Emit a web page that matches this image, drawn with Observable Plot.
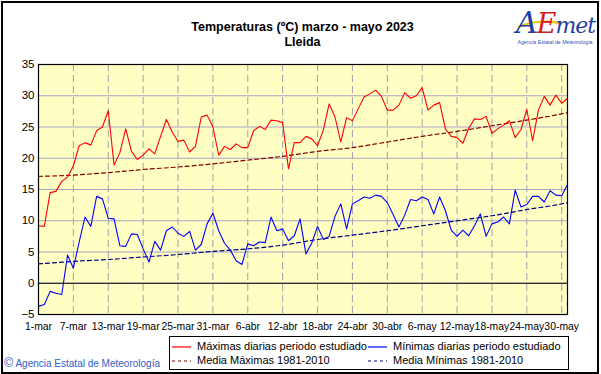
<!DOCTYPE html>
<html>
<head>
<meta charset="utf-8">
<script src="https://cdn.jsdelivr.net/npm/d3@7"></script>
<script src="https://cdn.jsdelivr.net/npm/@observablehq/plot@0.6"></script>
<style>
  html, body { margin: 0; padding: 0; background: #fff; }
  #wrap { position: relative; width: 601px; height: 374px; background: #fff; font-family: "Liberation Sans", Arial, sans-serif; overflow: hidden; }
  #frame { position: absolute; left: 1px; top: 1px; width: 594px; height: 369px; border: 2px solid #000; }
  #title { position: absolute; left: 0; width: 605px; top: 20px; text-align: center; font-weight: bold; font-size: 12.5px; line-height: 15px; color: #000; }
  #chart { position: absolute; left: 0; top: 0; }
  #legend { position: absolute; left: 169px; top: 336px; width: 398px; height: 32px; border: 1px solid #000; font-size: 11px; color: #000; }
  .item { position: absolute; white-space: nowrap; line-height: 12px; }
  .item svg { vertical-align: middle; margin-right: 5px; }
  #copy { position: absolute; left: 4px; top: 356px; font-size: 10px; color: #3060c8; white-space: nowrap; }
  #copy .c { font-size: 12.5px; }
  #logo { position: absolute; left: 512px; top: 3px; }
</style>
</head>
<body>
<div id="wrap">
  <div id="title">Temperaturas (ºC) marzo - mayo 2023<br>Lleida</div>
  <svg id="logo" width="86" height="44" viewBox="0 0 86 44">
    <path d="M6 24 C 20 18, 38 17, 50 21" fill="none" stroke="#f2c200" stroke-width="2.2"/>
    <text x="4" y="30" font-family="DejaVu Serif, serif" font-style="italic" fill="#1f3fa8" letter-spacing="-1"><tspan font-size="30">A</tspan><tspan font-size="27" fill="#d42020">E</tspan><tspan font-size="22">met</tspan></text>
    <text x="43" y="41" text-anchor="middle" font-family="Liberation Sans, Arial" font-size="5.2" fill="#2f55b8">Agencia Estatal de Meteorología</text>
  </svg>
  <div id="chart"></div>
  <div id="legend">
    <div class="item" style="left:2px; top:3px;"><svg width="20" height="6"><line x1="0" y1="3" x2="19" y2="3" stroke="#ff0000" stroke-width="1.2"/></svg>Máximas diarias periodo estudiado</div>
    <div class="item" style="left:198px; top:3px;"><svg width="20" height="6"><line x1="0" y1="3" x2="19" y2="3" stroke="#0000ff" stroke-width="1.2"/></svg>Mínimas diarias periodo estudiado</div>
    <div class="item" style="left:2px; top:17px;"><svg width="20" height="6"><line x1="0" y1="3" x2="19" y2="3" stroke="#800000" stroke-width="1.2" stroke-dasharray="3,3"/></svg>Media Máximas 1981-2010</div>
    <div class="item" style="left:198px; top:17px;"><svg width="20" height="6"><line x1="0" y1="3" x2="19" y2="3" stroke="#000080" stroke-width="1.2" stroke-dasharray="3,3"/></svg>Media Mínimas 1981-2010</div>
  </div>
  <div id="copy"><span class="c">©</span> Agencia Estatal de Meteorología</div>
  <div id="frame"></div>
</div>
<script>
// ---- Data ----
const startDate = "2023-03-01";

const tmax = [
  9.2, 9.1, 14.5, 14.7, 16.3, 17.0, 18.8, 22.0, 22.5, 22.1,
  24.4, 25.0, 27.6, 18.9, 20.9, 24.7, 21.1, 19.8, 20.5, 21.5,
  20.7, 23.5, 26.2, 24.2, 22.7, 22.9, 21.0, 21.9, 26.6, 26.9,
  25.0, 20.5, 21.9, 21.4, 22.3, 21.7, 21.7, 24.4, 25.1, 24.6,
  26.1, 26.0, 25.7, 18.3, 22.5, 22.5, 23.5, 23.1, 22.0, 24.5,
  28.7, 26.6, 22.6, 26.5, 26.0, 27.9, 29.8, 30.3, 30.9, 29.9,
  27.7, 27.7, 28.5, 30.5, 29.6, 30.0, 31.3, 27.7, 28.5, 28.9,
  24.7, 23.5, 23.3, 22.4, 24.8, 26.3, 26.2, 26.7, 24.0, 24.7,
  25.3, 26.0, 23.3, 24.6, 27.8, 22.8, 27.7, 29.9, 28.5, 30.1,
  28.8, 29.6
];

const tmin = [
  -3.7, -3.4, -1.3, -1.6, -1.8, 4.5, 2.4, 6.6, 10.6, 9.1,
  13.9, 13.5, 10.4, 10.3, 6.0, 5.9, 7.9, 7.8, 5.5, 3.4,
  6.7, 5.3, 8.4, 9.0, 8.0, 7.5, 8.3, 5.3, 6.2, 9.5,
  11.2, 8.4, 6.4, 5.3, 3.6, 3.0, 6.3, 6.0, 6.6, 6.5,
  10.6, 8.4, 8.7, 6.8, 7.6, 10.3, 4.7, 6.4, 9.1, 7.0,
  7.5, 10.7, 12.7, 8.7, 12.7, 13.2, 13.8, 13.6, 14.1, 13.9,
  12.9, 11.0, 9.0, 10.9, 13.4, 13.2, 13.8, 13.4, 11.1, 13.8,
  11.6, 8.5, 7.5, 8.5, 7.6, 9.2, 11.1, 7.5, 9.5, 9.8,
  10.6, 9.5, 14.9, 12.2, 12.6, 13.9, 13.9, 13.0, 14.8, 14.1,
  14.0, 15.8
];

// Normals 1981-2010 read at day offsets from startDate
const normDays = [0, 6, 12, 18, 24, 30, 36, 42, 48, 54, 60, 66, 72, 78, 84, 90, 91];
const normMax = [17.1, 17.3, 17.7, 18.2, 18.6, 19.1, 19.7, 20.3, 21.1, 21.7, 22.6, 23.5, 24.3, 25.2, 26.1, 27.1, 27.3];
const normMin = [3.1, 3.5, 3.8, 4.2, 4.6, 5.1, 5.5, 6.1, 7.0, 7.7, 8.4, 9.2, 10.0, 10.8, 11.8, 12.7, 12.9];

const tickLabels = ["1-mar", "7-mar", "13-mar", "19-mar", "25-mar", "31-mar", "6-abr", "12-abr",
  "18-abr", "24-abr", "30-abr", "6-may", "12-may", "18-may", "24-may", "30-may"];
const tickStep = 6;
const yTicks = [-5, 0, 5, 10, 15, 20, 25, 30, 35];

// ---- Build tables ----
const start = new Date(startDate + "T00:00:00Z");
const day = (i) => d3.utcDay.offset(start, i);
const daily = tmax.map((v, i) => ({date: day(i), tmax: v, tmin: tmin[i]}));
const normals = normDays.map((d, i) => ({date: day(d), nmax: normMax[i], nmin: normMin[i]}));
const tickDates = tickLabels.map((_, i) => day(i * tickStep));

const chart = Plot.plot({
  width: 601,
  height: 374,
  marginLeft: 38,
  marginRight: 34,
  marginTop: 64,
  marginBottom: 60,
  style: {background: "transparent", fontFamily: "'Liberation Sans', Arial, sans-serif", fontSize: "11px", color: "#000"},
  x: {type: "utc", domain: [day(0), day(tmax.length - 1)]},
  y: {domain: [-5, 35]},
  marks: [
    Plot.frame({fill: "#ffffc4", stroke: null}),
    Plot.ruleY(yTicks, {stroke: "#a4a6c4", strokeWidth: 1}),
    Plot.ruleX(tickDates, {stroke: "#a0a0aa", strokeWidth: 1, strokeDasharray: "7,4"}),
    Plot.ruleY([0], {stroke: "#000", strokeWidth: 1.2}),
    Plot.line(normals, {x: "date", y: "nmax", stroke: "#800000", strokeWidth: 1.2, strokeDasharray: "4,3", curve: "monotone-x"}),
    Plot.line(normals, {x: "date", y: "nmin", stroke: "#000080", strokeWidth: 1.2, strokeDasharray: "4,3", curve: "monotone-x"}),
    Plot.line(daily, {x: "date", y: "tmax", stroke: "#ff0000", strokeWidth: 1.1}),
    Plot.line(daily, {x: "date", y: "tmin", stroke: "#0000ff", strokeWidth: 1.1}),
    Plot.frame({stroke: "#000", strokeWidth: 1.2}),
    Plot.axisY({ticks: yTicks, tickSize: 0, tickPadding: 4, fontSize: 11.5, label: null}),
    Plot.axisX({ticks: tickDates, tickSize: 0, tickPadding: 8, fontSize: 10.4, label: null,
      tickFormat: (d) => tickLabels[Math.round(d3.utcDay.count(start, d) / tickStep)]})
  ]
});
document.getElementById("chart").appendChild(chart);
</script>
</body>
</html>
